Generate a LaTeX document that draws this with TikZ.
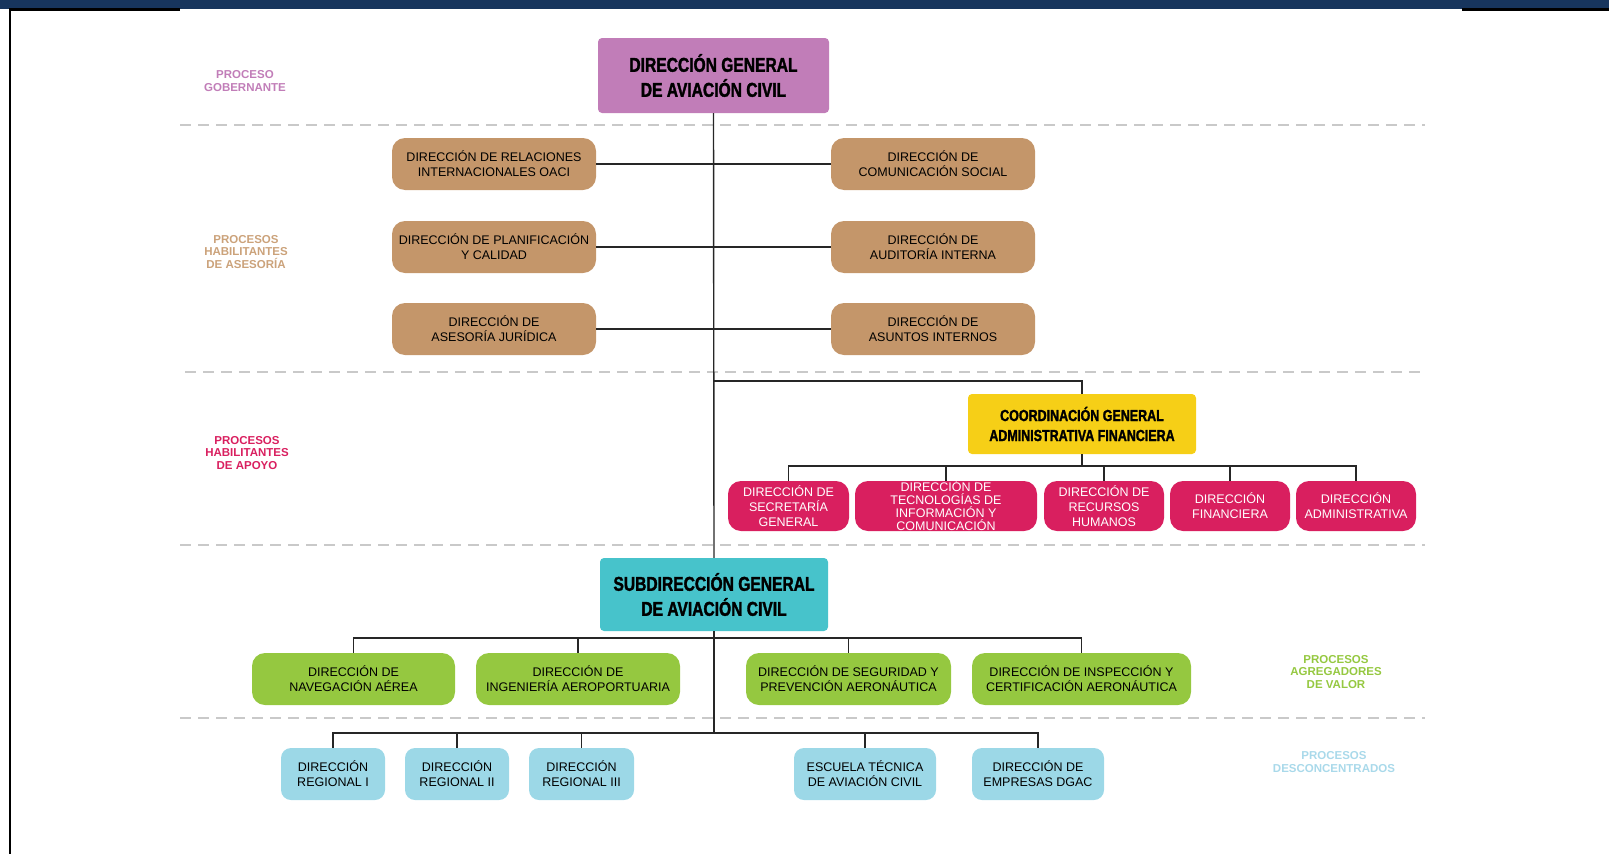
\documentclass[tikz,border=0pt]{standalone}
\usepackage{fontspec}
\setmainfont{Liberation Sans}
\newfontfamily\headfont[FakeStretch=0.78, BoldFeatures={FakeBold=1.6}]{Liberation Sans}
\definecolor{gobcol}{HTML}{C17DB8}
\definecolor{asecol}{HTML}{C4966A}
\definecolor{aselbl}{HTML}{CBA27A}
\definecolor{apocol}{HTML}{D91F5F}
\definecolor{cgafcol}{HTML}{F6CF17}
\definecolor{sdgcol}{HTML}{47C3CB}
\definecolor{valcol}{HTML}{95C840}
\definecolor{descol}{HTML}{9CD8E7}
\definecolor{deslbl}{HTML}{A9D9EA}
\definecolor{navy}{HTML}{17355D}
\definecolor{sepcol}{HTML}{C9C9C9}
\tikzset{
  conn/.style={draw=black!85, line width=1.4pt},
  sepline/.style={draw=sepcol, line width=1.4pt, dash pattern=on 11pt off 7pt},
  unit/.style={rounded corners=13pt, align=center, inner sep=0pt,
    font=\fontsize{12.5}{15}\selectfont},
  tanbox/.style={unit, fill=asecol, minimum width=204pt, minimum height=52pt},
  pinkbox/.style={unit, fill=apocol, text=white, minimum height=50pt},
  greenbox/.style={unit, fill=valcol, minimum height=52pt},
  bluebox/.style={unit, fill=descol, minimum height=52pt, rounded corners=10pt},
  headbox/.style={rounded corners=4pt, align=center, inner sep=0pt,
    font=\headfont\bfseries\fontsize{20}{25}\selectfont},
  proc/.style={align=center, font=\bfseries\fontsize{11.5}{12.8}\selectfont}
}
\begin{document}
\begin{tikzpicture}[x=1pt,y=-1pt]
    \useasboundingbox (0,0) rectangle (1609,854);
    % franja superior y marco
    \fill[navy] (0,0) rectangle (1609,9);
    \fill[black] (10,8) rectangle (180,11);
    \fill[black] (1462,8) rectangle (1609,11);
    \fill[black] (9,8) rectangle (11,854);

    % separadores de procesos
    \draw[sepline] (180,125) -- (1425,125);
    \draw[sepline] (185,372) -- (1425,372);
    \draw[sepline] (180,545) -- (1425,545);
    \draw[sepline] (180,718) -- (1425,718);

    % etiquetas de procesos
    \node[proc, text=gobcol] (pgob) at (245,81) {PROCESO\\GOBERNANTE};
    \node[proc, text=aselbl] (pase) at (246,252) {PROCESOS\\HABILITANTES\\DE ASESORÍA};
    \node[proc, text=apocol] (papo) at (247,453) {PROCESOS\\HABILITANTES\\DE APOYO};
    \node[proc, text=valcol] (pval) at (1336,672) {PROCESOS\\AGREGADORES\\DE VALOR};
    \node[proc, text=deslbl] (pdes) at (1334,762) {PROCESOS\\DESCONCENTRADOS};

    % gobernante
    \node[headbox, fill=gobcol, minimum width=231pt, minimum height=75pt] (dgac) at (713.5,75.5)
        {DIRECCIÓN GENERAL\\DE AVIACIÓN CIVIL};

    % asesoria
    \node[tanbox] (rel) at (494,164) {DIRECCIÓN DE RELACIONES\\INTERNACIONALES OACI};
    \node[tanbox] (com) at (933,164) {DIRECCIÓN DE\\COMUNICACIÓN SOCIAL};
    \node[tanbox] (pla) at (494,247) {DIRECCIÓN DE PLANIFICACIÓN\\Y CALIDAD};
    \node[tanbox] (aud) at (933,247) {DIRECCIÓN DE\\AUDITORÍA INTERNA};
    \node[tanbox] (jur) at (494,329) {DIRECCIÓN DE\\ASESORÍA JURÍDICA};
    \node[tanbox] (asu) at (933,329) {DIRECCIÓN DE\\ASUNTOS INTERNOS};

    % apoyo
    \node[headbox, fill=cgafcol, minimum width=228pt, minimum height=60pt,
        font=\headfont\bfseries\fontsize{16}{20}\selectfont] (cgaf) at (1082,424)
        {COORDINACIÓN GENERAL\\ADMINISTRATIVA FINANCIERA};
    \node[pinkbox, minimum width=121pt] (sec) at (788.5,506) {DIRECCIÓN DE\\SECRETARÍA\\GENERAL};
    \node[pinkbox, minimum width=182pt, font=\fontsize{12.5}{13}\selectfont] (tic) at (946,506)
        {DIRECCIÓN DE\\TECNOLOGÍAS DE\\INFORMACIÓN Y\\COMUNICACIÓN};
    \node[pinkbox, minimum width=120pt] (rrhh) at (1104,506) {DIRECCIÓN DE\\RECURSOS\\HUMANOS};
    \node[pinkbox, minimum width=120pt] (fin) at (1230,506) {DIRECCIÓN\\FINANCIERA};
    \node[pinkbox, minimum width=120pt] (adm) at (1356,506) {DIRECCIÓN\\ADMINISTRATIVA};

    % agregadores de valor
    \node[headbox, fill=sdgcol, minimum width=228pt, minimum height=73pt] (sdg) at (714,594.5)
        {SUBDIRECCIÓN GENERAL\\DE AVIACIÓN CIVIL};
    \node[greenbox, minimum width=203pt] (nav) at (353.5,679) {DIRECCIÓN DE\\NAVEGACIÓN AÉREA};
    \node[greenbox, minimum width=204pt] (ing) at (578,679) {DIRECCIÓN DE\\INGENIERÍA AEROPORTUARIA};
    \node[greenbox, minimum width=205pt] (seg) at (848.5,679) {DIRECCIÓN DE SEGURIDAD Y\\PREVENCIÓN AERONÁUTICA};
    \node[greenbox, minimum width=219pt] (ins) at (1081.5,679) {DIRECCIÓN DE INSPECCIÓN Y\\CERTIFICACIÓN AERONÁUTICA};

    % desconcentrados
    \node[bluebox, minimum width=104pt] (reg1) at (333,774) {DIRECCIÓN\\REGIONAL I};
    \node[bluebox, minimum width=104pt] (reg2) at (457,774) {DIRECCIÓN\\REGIONAL II};
    \node[bluebox, minimum width=105pt] (reg3) at (581.5,774) {DIRECCIÓN\\REGIONAL III};
    \node[bluebox, minimum width=142pt] (etac) at (865,774) {ESCUELA TÉCNICA\\DE AVIACIÓN CIVIL};
    \node[bluebox, minimum width=132pt] (emp) at (1038,774) {DIRECCIÓN DE\\EMPRESAS DGAC};

    % conectores
    \draw[conn] (dgac.south) -- (sdg.north);
    \draw[conn] (sdg.south) -- (sdg.south |- 0,733);
    \draw[conn] (rel.east) -- (com.west);
    \draw[conn] (pla.east) -- (aud.west);
    \draw[conn] (jur.east) -- (asu.west);
    \draw[conn] (dgac.south |- 0,381) -| (cgaf.north);
    \draw[conn] (cgaf.south) -- (cgaf.south |- 0,466);
    \draw[conn] (sec.north) -- (sec.north |- 0,466) -| (adm.north);
    \foreach \n in {tic,rrhh,fin}
        \draw[conn] (\n.north) -- (\n.north |- 0,466);
    \draw[conn] (nav.north) -- (nav.north |- 0,638) -| (ins.north);
    \foreach \n in {ing,seg}
        \draw[conn] (\n.north) -- (\n.north |- 0,638);
    \draw[conn] (reg1.north) -- (reg1.north |- 0,733) -| (emp.north);
    \foreach \n in {reg2,reg3,etac}
        \draw[conn] (\n.north) -- (\n.north |- 0,733);
\end{tikzpicture}
\end{document}
